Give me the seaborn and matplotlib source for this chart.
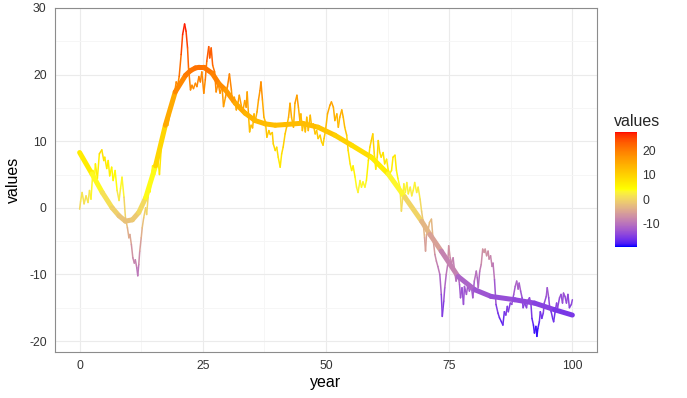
import numpy as np
import matplotlib
matplotlib.use("Agg")
import matplotlib.pyplot as plt
from matplotlib.collections import LineCollection
from matplotlib.colors import ListedColormap, Normalize
from matplotlib.cm import ScalarMappable
import seaborn as sns

# ---- data -----------------------------------------------------------------

year = [0, 0.2, 0.5, 0.9, 1.3, 1.7, 2.0, 2.3, 2.7, 3.0, 3.2, 3.6, 4.0, 4.5, 4.9,
        5.1, 5.5, 5.8, 6.1, 6.5, 6.8, 7.2, 7.6, 8.0, 8.3, 8.6, 9.0, 9.3, 9.7,
        10.0, 10.2, 10.5, 10.8, 11.1, 11.3, 11.6, 11.8, 12.0, 12.2, 12.5, 12.7,
        13.0, 13.4, 13.6, 13.9, 14.1, 14.3, 14.8, 15.2, 15.7, 16.0, 16.2, 16.6,
        17.1, 17.5, 17.9, 18.4, 18.8, 19.3, 19.6, 19.9, 20.2, 20.6, 20.9, 21.3,
        21.6, 21.9, 22.1, 22.5, 22.8, 23.1, 23.5, 23.8, 24.2, 24.5, 24.8, 25.2,
        25.5, 25.8, 26.2, 26.4, 26.7, 27.0, 27.4, 27.7, 28.1, 28.5, 28.9, 29.2,
        29.6, 30.0, 30.4, 30.8, 31.0, 31.4, 31.8, 32.1, 32.4, 32.8, 33.1, 33.5,
        33.8, 34.0, 34.3, 34.5, 34.8, 35.1, 35.4, 35.6, 36.0, 36.3, 36.6, 36.8,
        37.1, 37.4, 37.7, 38.0, 38.4, 38.7, 39.1, 39.3, 39.7, 40.0, 40.3, 40.7,
        41.0, 41.3, 41.7, 42.0, 42.4, 42.7, 43.0, 43.4, 43.7, 44.1, 44.4, 44.7,
        44.9, 45.2, 45.5, 45.8, 46.1, 46.4, 46.8, 47.1, 47.4, 47.8, 48.1, 48.4,
        48.8, 49.1, 49.4, 49.6, 49.9, 50.3, 50.8, 51.1, 51.5, 51.8, 52.2, 52.5,
        52.8, 53.2, 53.5, 53.8, 54.2, 54.5, 54.9, 55.2, 55.5, 55.9, 56.2, 56.5,
        56.9, 57.2, 57.5, 57.9, 58.2, 58.6, 58.9, 59.2, 59.5, 59.8, 60.1, 60.4,
        60.6, 60.9, 61.2, 61.6, 61.9, 62.3, 62.6, 62.9, 63.3, 63.6, 64.0, 64.3,
        64.6, 65.0, 65.3, 65.6, 65.8, 66.1, 66.4, 66.7, 67.1, 67.4, 67.7, 68.0,
        68.4, 68.7, 69.1, 69.4, 69.7, 70.0, 70.2, 70.4, 70.7, 71.0, 71.4, 71.7,
        72.1, 72.4, 72.7, 73.1, 73.4, 73.6, 73.9, 74.1, 74.4, 74.7, 74.9, 75.2,
        75.5, 75.8, 76.1, 76.4, 76.8, 77.1, 77.3, 77.6, 77.9, 78.1, 78.5, 78.8,
        79.1, 79.5, 79.8, 80.1, 80.5, 80.7, 80.9, 81.2, 81.5, 81.8, 82.1, 82.3,
        82.6, 82.9, 83.1, 83.4, 83.7, 83.9, 84.2, 84.5, 84.9, 85.2, 85.6, 85.9,
        86.2, 86.5, 86.8, 87.0, 87.4, 87.7, 88.1, 88.4, 88.7, 89.0, 89.2, 89.5,
        89.8, 90.0, 90.3, 90.7, 90.9, 91.3, 91.6, 91.8, 92.1, 92.3, 92.6, 92.8,
        93.0, 93.3, 93.5, 93.8, 94.1, 94.3, 94.7, 94.9, 95.2, 95.4, 95.7, 96.0,
        96.2, 96.5, 96.8, 97.0, 97.4, 97.7, 98.0, 98.2, 98.5, 98.8, 99.1, 99.4,
        99.8, 100.0]

values = [-0.2, 1.0, 2.3, 0.6, 1.8, 0.8, 2.6, 1.3, 5.6, 4.1, 6.6, 4.4, 8.1, 8.7, 7.1,
          7.6, 5.9, 7.1, 4.8, 6.1, 4.1, 5.6, 2.6, 1.1, 2.9, 4.6, 1.6, -1.5, -3.0,
          -4.5, -4.0, -5.5, -7.5, -8.3, -7.8, -9.0, -10.2, -8.5, -6.5, -4.5, -3.0,
          -1.5, 0.0, -1.0, 1.6, 3.0, 2.4, 6.3, 5.0, 7.9, 6.5, 5.0, 9.4,
          10.9, 12.9, 12.4, 14.4, 16.4, 17.4, 18.9, 18.4, 19.7, 23.0, 26.0, 27.6,
          26.5, 24.0, 21.0, 17.7, 18.4, 17.9, 18.7, 18.2, 19.7, 18.9, 20.4, 17.2,
          19.2, 22.0, 24.2, 22.5, 24.0, 21.4, 20.4, 17.4, 18.7, 17.2, 18.2, 15.2,
          16.6, 18.2, 20.1, 17.7, 15.9, 16.6, 14.7, 15.6, 16.9, 15.4, 14.4, 16.1,
          15.1, 17.4, 13.6, 11.4, 12.4, 12.0, 14.1, 12.9, 14.4, 16.2, 17.6, 18.9,
          16.2, 13.6, 12.9, 10.6, 11.6, 11.0, 11.3, 9.6, 8.6, 9.1, 7.6, 6.1,
          8.1, 9.1, 11.1, 12.1, 13.6, 15.7, 13.6, 12.1, 15.7, 16.9, 15.1, 13.1,
          14.1, 11.6, 12.9, 11.4, 13.6, 11.6, 13.9, 12.1, 12.6, 11.1, 11.6, 10.4,
          10.9, 9.9, 9.4, 10.4, 11.6, 14.1, 15.4, 15.9, 15.1, 13.1, 14.1, 12.1,
          13.6, 14.7, 13.6, 12.1, 10.9, 8.6, 6.6, 5.6, 6.3, 4.6, 3.1, 2.3,
          4.1, 3.1, 3.9, 3.1, 4.1, 7.1, 9.1, 10.1, 11.1, 8.1, 5.8, 7.6,
          10.1, 8.3, 7.6, 8.3, 6.6, 7.3, 5.8, 5.1, 5.6, 7.6, 7.9, 5.6,
          4.4, 3.1, -0.5, 1.8, 3.6, 2.3, 3.8, 2.1, 3.1, 1.8, 2.6, 3.8,
          2.3, 3.1, 1.3, -0.5, -2.0, -4.5, -6.5, -4.0, -3.5, -2.2, -1.7, -4.5,
          -7.0, -8.0, -8.8, -10.0, -13.0, -16.3, -14.0, -12.0, -10.0, -8.5, -5.7, -7.5,
          -8.3, -7.5, -9.5, -11.0, -10.0, -11.5, -13.5, -12.0, -14.5, -11.8, -13.0, -11.5,
          -12.5, -11.8, -13.5, -11.0, -9.5, -10.5, -12.0, -9.5, -8.5, -6.2, -6.7, -6.2,
          -7.2, -6.5, -7.7, -7.2, -8.8, -8.3, -10.8, -14.5, -15.8, -16.5, -17.1, -17.6,
          -15.6, -16.1, -14.8, -15.6, -14.3, -14.5, -13.0, -11.8, -11.0, -12.2, -11.3, -12.5,
          -13.5, -15.0, -14.3, -15.0, -14.0, -13.5, -14.5, -16.6, -17.6, -18.8, -17.8, -19.3,
          -18.1, -17.1, -15.6, -16.6, -15.8, -14.3, -13.3, -12.0, -13.5, -15.0, -15.6, -16.6,
          -17.1, -15.6, -14.3, -15.0, -13.5, -13.0, -14.3, -12.8, -13.3, -14.3, -13.0, -15.0,
          -14.5, -13.8]

# the thick smoothed trend line
smooth_year = [0, 2.5, 4.6, 6.6, 8.0, 9.3, 10.7, 12.0, 13.4, 15.4, 17.4, 19.4,
               21.5, 22.5, 23.5, 24.3, 25.2, 26.9, 28.3, 29.6, 31.6, 33.6, 35.6,
               37.7, 39.7, 41.7, 45.1, 48.4, 51.8, 55.2, 59.2, 62.6, 66.0, 69.4,
               71.1, 73.4, 76.8, 80.2, 83.5, 88.3, 92.3, 96.4, 100]
smooth_values = [8.3, 5.1, 2.3, 0.0, -1.2, -2.0, -1.8, -0.7, 1.5, 6.3, 12.4, 17.4,
                 19.9, 20.6, 21.0, 21.1, 21.1, 20.2, 18.6, 17.7, 15.7, 14.2, 13.1,
                 12.6, 12.4, 12.5, 12.7, 12.1, 10.9, 9.4, 7.6, 5.1, 1.6, -2.0,
                 -4.0, -6.5, -10.3, -12.3, -13.3, -13.8, -14.3, -15.3, -16.1]

x_ticks = [0, 25, 50, 75, 100]
y_ticks = [-20, -10, 0, 10, 20, 30]
bar_ticks = [-10, 0, 10, 20]
gradient_colours = [(0, 0, 1), (1, 1, 0), (1, 0, 0)]  # blue, yellow, red


# ---- colour scale: mix the colours in Lab space, like ggplot does ---------

WHITE = np.array([0.95047, 1.0, 1.08883])


def to_lab(rgb):
    rgb = np.asarray(rgb, float)
    lin = np.where(rgb > 0.04045, ((rgb + 0.055) / 1.055) ** 2.4, rgb / 12.92)
    m = np.array([[0.4124, 0.3576, 0.1805],
                  [0.2126, 0.7152, 0.0722],
                  [0.0193, 0.1192, 0.9505]])
    xyz = m @ lin / WHITE
    f = np.where(xyz > 0.008856, np.cbrt(xyz), 7.787 * xyz + 16 / 116)
    return np.array([116 * f[1] - 16, 500 * (f[0] - f[1]), 200 * (f[1] - f[2])])


def from_lab(lab):
    L, a, b = lab
    fy = (L + 16) / 116
    f = np.array([fy + a / 500, fy, fy - b / 200])
    xyz = np.where(f ** 3 > 0.008856, f ** 3, (f - 16 / 116) / 7.787) * WHITE
    minv = np.array([[3.2406, -1.5372, -0.4986],
                     [-0.9689, 1.8758, 0.0415],
                     [0.0557, -0.2040, 1.0570]])
    lin = np.clip(minv @ xyz, 0, 1)
    rgb = np.where(lin > 0.0031308, 1.055 * lin ** (1 / 2.4) - 0.055, 12.92 * lin)
    return np.clip(rgb, 0, 1)


labs = [to_lab(c) for c in gradient_colours]
colour_list = []
for t in np.linspace(0, 1, 256):
    k = min(int(t * 2), 1)
    s = t * 2 - k
    colour_list.append(from_lab(labs[k] * (1 - s) + labs[k + 1] * s))
cmap = ListedColormap(colour_list)
norm = Normalize(vmin=min(values), vmax=max(values))


# ---- theme ----------------------------------------------------------------

sns.set_theme(style="white", rc={
    "axes.edgecolor": "#8C8C8C",
    "axes.linewidth": 0.8,
    "xtick.color": "#8C8C8C",
    "ytick.color": "#8C8C8C",
})
plt.rcParams["font.family"] = ["Liberation Sans", "DejaVu Sans"]
plt.rcParams["axes.unicode_minus"] = False

fig = plt.figure(figsize=(6.87, 3.98), dpi=100)
ax = fig.add_axes([55 / 687, 46 / 398, 542 / 687, 344 / 398])


def gradient_line(xs, ys, width):
    pts = np.column_stack([xs, ys])
    segs = np.stack([pts[:-1], pts[1:]], axis=1)
    lc = LineCollection(segs, cmap=cmap, norm=norm, linewidths=width,
                        capstyle="round", joinstyle="round")
    lc.set_array((np.array(ys[:-1]) + np.array(ys[1:])) / 2)
    ax.add_collection(lc)


gradient_line(year, values, 1.1)
gradient_line(smooth_year, smooth_values, 3.6)

# ggplot adds 5% on each side of the data range
span = max(values) - min(values)
ax.set_xlim(-5, 105)
ax.set_ylim(min(values) - 0.05 * span, max(values) + 0.05 * span)

ax.set_xticks(x_ticks)
ax.set_yticks(y_ticks)
ax.set_xticks([12.5, 37.5, 62.5, 87.5], minor=True)
ax.set_yticks([-15, -5, 5, 15, 25], minor=True)
ax.grid(which="major", color="#EBEBEB", linewidth=0.8)
ax.grid(which="minor", color="#F5F5F5", linewidth=0.6)
ax.set_axisbelow(True)
ax.tick_params(which="major", direction="out", length=3.5, width=0.8,
               labelsize=8.8, labelcolor="#333333", pad=2.5)
ax.tick_params(which="minor", length=0)
for side in ax.spines.values():
    side.set_visible(True)

ax.set_xlabel("year", fontsize=11.5, color="black", labelpad=2)
ax.set_ylabel("values", fontsize=11.5, color="black", labelpad=6)

# ---- colour bar legend ----------------------------------------------------

cax = fig.add_axes([615 / 687, 1 - 246.7 / 398, 22 / 687, 115 / 398])
cb = fig.colorbar(ScalarMappable(norm=norm, cmap=cmap), cax=cax)
cb.outline.set_visible(False)
cb.set_ticks(bar_ticks)
cax.minorticks_off()
cax.tick_params(axis="y", direction="in", length=3.2, width=0.8, color="white",
                left=True, right=True, labelleft=False, labelright=True,
                labelsize=8.8, labelcolor="#333333", pad=4)
fig.text(614 / 687, 1 - 121 / 398, "values", fontsize=11.5, ha="left", va="center")

fig.savefig("out.png", dpi=100)
